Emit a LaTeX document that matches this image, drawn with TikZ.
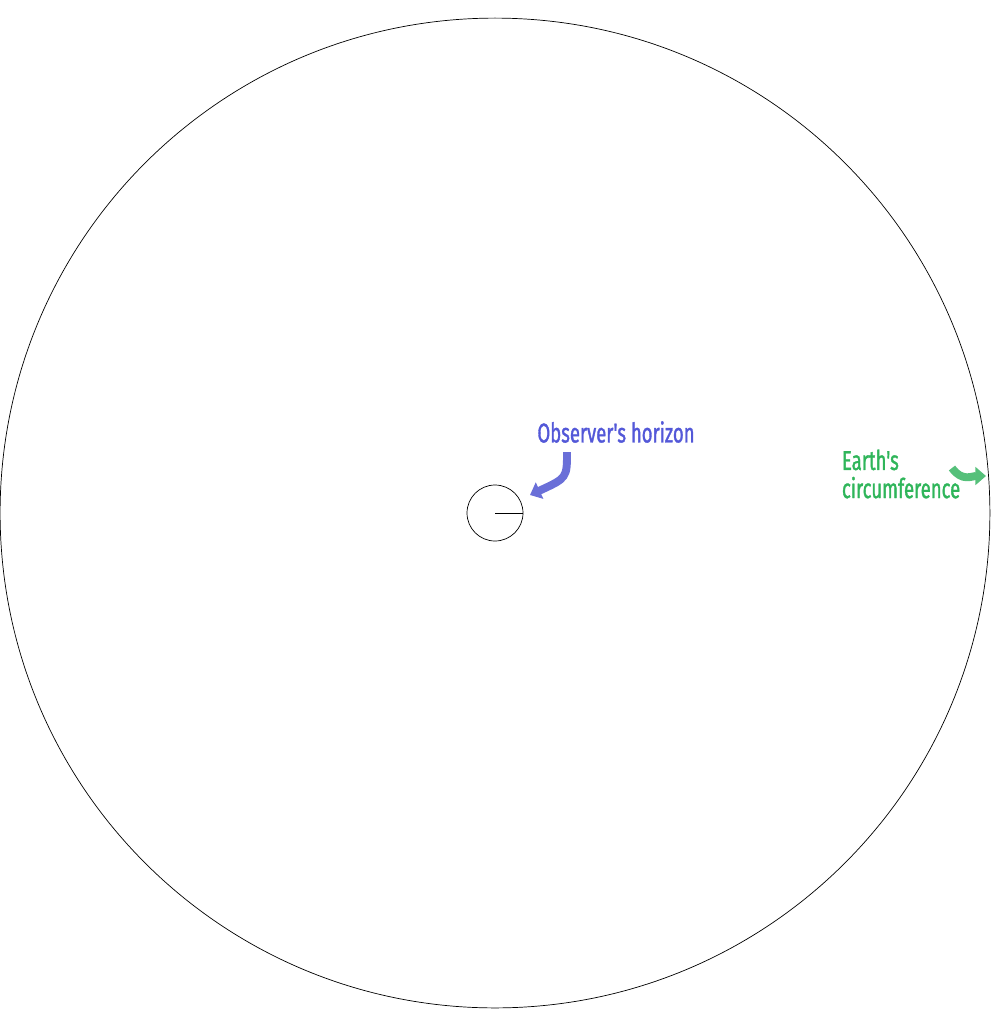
\documentclass[tikz,border=0pt]{standalone}
\usepackage{fontspec}
\usepackage{xcolor}
\usepackage{tikz}
\usetikzlibrary{arrows.meta}
\newfontfamily\labelfont{Fira Sans}[FakeStretch=0.68, FakeBold=1.2]
\definecolor{horizonblue}{HTML}{5358d8}
\definecolor{arrowblue}{HTML}{6a6fd8}
\definecolor{earthgreen}{HTML}{2fb55a}
\definecolor{arrowgreen}{HTML}{55c07a}

\begin{document}
\begin{tikzpicture}[x=0.02cm, y=-0.02cm,
    every node/.style={inner sep=0pt, outer sep=0pt},
    lbl/.style={font=\labelfont\fontsize{15.5}{16}\selectfont, align=left},
    curvedarrow/.style={line width=4.5pt, -{Triangle[length=6pt, width=10pt]}}]
    \useasboundingbox (0,0) rectangle (991,1011);
    \node[circle, draw, thin, minimum size=19.8cm] (earth) at (495,513) {};
    \node[circle, draw, thin, minimum size=1.12cm] (horizon) at (495,513) {};
    \draw (horizon.center) -- (horizon.east);

    \node[lbl, text=horizonblue] (horizon-label) at (616,432) {Observer's horizon};
    \node[lbl, text=earthgreen, anchor=west] (earth-label) at (842,474) {Earth's\\circumference};

    \coordinate (blue-start) at (567,452);
    \coordinate (blue-end) at (530,495);
    \coordinate (green-start) at (952,468);
    \coordinate (green-end) at (986,476);

    \draw[curvedarrow, arrowblue] (blue-start) .. controls (567,478) .. (blue-end);
    \draw[curvedarrow, arrowgreen] (green-start) .. controls (962,482) and (972,476) .. (green-end);
\end{tikzpicture}
\end{document}
